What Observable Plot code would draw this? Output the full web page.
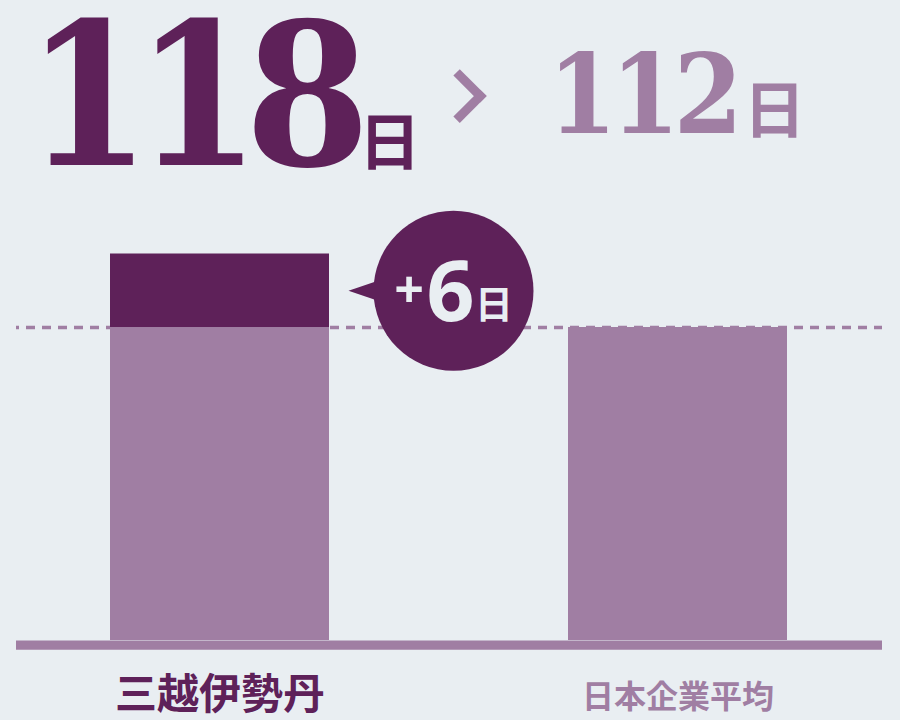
<!DOCTYPE html>
<html>
<head>
<meta charset="utf-8">
<script src="https://cdn.jsdelivr.net/npm/d3@7"></script>
<script src="https://cdn.jsdelivr.net/npm/@observablehq/plot@0.6"></script>
<style>
  html, body { margin: 0; padding: 0; background: #e9eef2; }
  #wrap { width: 900px; height: 720px; overflow: hidden; position: relative; background: #e9eef2; }
  #header { position: relative; height: 200px; }
  .grp { position: absolute; display: flex; align-items: baseline; white-space: nowrap; }
  .num { font-family: "DejaVu Serif Condensed", "DejaVu Serif"; font-weight: 700; }
  .unit { font-family: "Noto Sans CJK JP"; font-weight: 700; }
  #chev { position: absolute; box-sizing: border-box; width: 37.5px; height: 37.5px;
          border-top: 9px solid #a07ea3; border-right: 9px solid #a07ea3; transform: rotate(45deg); }
  #chart svg { display: block; }
</style>
</head>
<body>
<div id="wrap">
  <div id="header">
    <div class="grp" id="g1" style="left:26px; top:16px; line-height:0.8; color:#5e2159;">
      <span class="num" id="n1" style="font-size:199px; letter-spacing:-15px;"></span><span class="unit" id="u1" style="font-size:62px; margin-left:4px;"></span>
    </div>
    <div id="chev" style="left:440.6px; top:76.75px;"></div>
    <div class="grp" id="g2" style="left:548px; top:40px; line-height:1; color:#a07ea3;">
      <span class="num" id="n2" style="font-size:110px; letter-spacing:-6px;"></span><span class="unit" id="u2" style="font-size:62px; margin-left:7px;"></span>
    </div>
  </div>
  <div id="chart"></div>
</div>
<script>
// ---- data ----
const categories = ["三越伊勢丹", "日本企業平均"];
const days = [118, 112];
const unit = "日";
const diffSign = "+";
const diffValue = 6;
const yFloor = 86.45; // truncated axis floor

// ---- styles ----
const dark = "#5e2159";
const light = "#a07ea3";
const bg = "#e9eef2";

document.getElementById("n1").textContent = String(days[0]);
document.getElementById("u1").textContent = unit;
document.getElementById("n2").textContent = String(days[1]);
document.getElementById("u2").textContent = unit;

const avg = days[1];
const rows = categories.map((c, i) => ({cat: c, value: days[i]}));
const upper = rows.filter(d => d.value > avg);
const mid = [{cat: categories[0], y: (days[0] + days[1]) / 2}];

const pointer = {
  draw(ctx) {
    ctx.moveTo(-12.5, 0);
    ctx.lineTo(14, -9);
    ctx.lineTo(14, 9);
    ctx.closePath();
  }
};

const chart = Plot.plot({
  width: 900,
  height: 520,
  marginLeft: 16,
  marginRight: 18,
  marginTop: 0,
  marginBottom: 80,
  style: {background: "transparent", overflow: "visible"},
  x: {domain: categories, paddingInner: 0.521, paddingOuter: 0.204, axis: null},
  y: {domain: [yFloor, days[0]], range: [440, 53.5], axis: null},
  marks: [
    Plot.ruleY([avg], {stroke: light, strokeWidth: 3.7, strokeDasharray: "9,7", strokeDashoffset: 6}),
    Plot.barY(rows, {x: "cat", y1: yFloor, y2: d => Math.min(d.value, avg), fill: light}),
    Plot.barY(upper, {x: "cat", y1: avg, y2: "value", fill: dark}),
    Plot.ruleY([yFloor], {stroke: light, strokeWidth: 9.3, dy: 4.65}),
    Plot.dot(mid, {x: "cat", y: "y", r: 80, fill: dark, stroke: null, dx: 233.5}),
    Plot.dot(mid, {x: "cat", y: "y", symbol: pointer, fill: dark, stroke: null, dx: 141}),
    Plot.text(mid, {x: "cat", y: "y", text: () => diffSign, fill: bg, fontFamily: "Noto Sans", fontWeight: 700, fontSize: 52, textAnchor: "middle", lineAnchor: "bottom", dx: 189, dy: 17.7}),
    Plot.text(mid, {x: "cat", y: "y", text: () => String(diffValue), fill: bg, fontFamily: "Noto Sans", fontWeight: 700, fontSize: 84, textAnchor: "middle", lineAnchor: "bottom", dx: 230.5, dy: 30.7}),
    Plot.text(mid, {x: "cat", y: "y", text: () => unit, fill: bg, fontFamily: "Noto Sans CJK JP", fontWeight: 700, fontSize: 38, textAnchor: "middle", lineAnchor: "bottom", dx: 274, dy: 27.2}),
    Plot.text([rows[0]], {x: "cat", y: () => yFloor, text: "cat", fill: dark, fontFamily: "Noto Sans CJK JP", fontWeight: 700, fontSize: 42, textAnchor: "middle", lineAnchor: "bottom", dy: 68}),
    Plot.text([rows[1]], {x: "cat", y: () => yFloor, text: "cat", fill: light, fontFamily: "Noto Sans CJK JP", fontWeight: 700, fontSize: 32, textAnchor: "middle", lineAnchor: "bottom", dy: 67})
  ]
});
document.getElementById("chart").appendChild(chart);
</script>
</body>
</html>
